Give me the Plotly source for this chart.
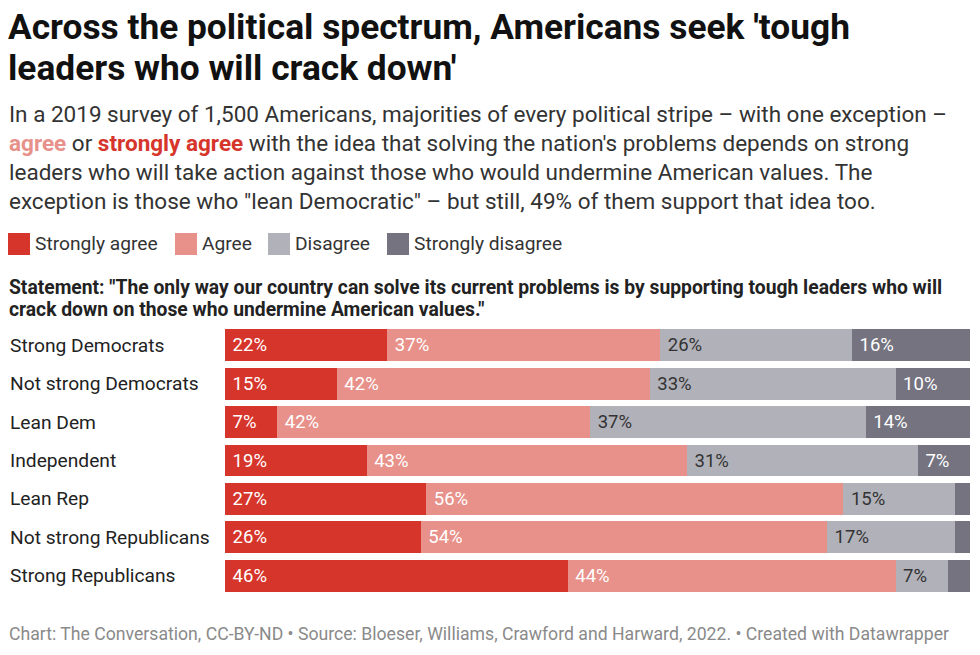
import plotly.graph_objects as go

categories = ["Strong Democrats", "Not strong Democrats", "Lean Dem", "Independent",
              "Lean Rep", "Not strong Republicans", "Strong Republicans"]
series_names = ["Strongly agree", "Agree", "Disagree", "Strongly disagree"]
strongly_agree = [22, 15, 7, 19, 27, 26, 46]
agree = [37, 42, 42, 43, 56, 54, 44]
disagree = [26, 33, 37, 31, 15, 17, 7]
strongly_disagree = [16, 10, 14, 7, 2, 2, 3]
colors = ["#d6352b", "#e8918a", "#b1b1b9", "#74737f"]
text_colors = ["#ffffff", "#ffffff", "#333333", "#ffffff"]
min_label = 5

W, H = 980, 655
ML, MR, MT, MB = 225, 10, 326, 60
PW = W - ML - MR
PH = H - MT - MB

def px(x):
    return (x - ML) / PW

def py(y):
    return (H - MB - y) / PH

fig = go.Figure()
all_series = [strongly_agree, agree, disagree, strongly_disagree]
for name, vals, col, tc in zip(series_names, all_series, colors, text_colors):
    fig.add_trace(go.Bar(
        y=categories, x=vals, name=name, orientation="h",
        marker=dict(color=col, line=dict(width=0)),
        text=[f"\u00a0{v}%" if v >= min_label else "" for v in vals],
        textposition="inside", insidetextanchor="start",
        textfont=dict(family="Roboto", size=18.5, color=tc),
        constraintext="none", cliponaxis=False,
        hoverinfo="skip", showlegend=False,
    ))

fig.update_layout(
    width=W, height=H, barmode="stack", barnorm="percent", bargap=0.17,
    margin=dict(l=ML, r=MR, t=MT, b=MB),
    paper_bgcolor="white", plot_bgcolor="white",
    font=dict(family="Roboto", color="#222222"),
    xaxis=dict(visible=False, range=[0, 100], fixedrange=True),
    yaxis=dict(autorange="reversed", showticklabels=False, showgrid=False,
               zeroline=False, fixedrange=True),
    uniformtext=dict(minsize=18, mode="show"),
)

ann = []
def text(x, y, s, size, color="#222222", yanchor="middle"):
    ann.append(dict(x=px(x), y=py(y), xref="paper", yref="paper", text=s,
                    showarrow=False, xanchor="left", yanchor=yanchor,
                    font=dict(family="Roboto", size=size, color=color), align="left"))

# Title
text(6, 27, "<b>Across the political spectrum, Americans seek 'tough</b>", 35.3, "#111111")
text(6, 68, "<b>leaders who will crack down'</b>", 35.3, "#111111")
# Subtitle
sub = [
    "In a 2019 survey of 1,500 Americans, majorities of every political stripe – with one exception –",
    "<b><span style='color:#e8918a'>agree</span></b> or <b><span style='color:#d6352b'>strongly agree</span></b> with the idea that solving the nation's problems depends on strong",
    "leaders who will take action against those who would undermine American values. The",
    "exception is those who \"lean Democratic\" – but still, 49% of them support that idea too.",
]
for i, s in enumerate(sub):
    text(7, 114 + i * 29, s, 22.5, "#333333")

# Legend
leg_x = [8, 175, 268, 387]
for name, col, lx in zip(series_names, colors, leg_x):
    fig.add_shape(type="rect", xref="paper", yref="paper",
                  x0=px(lx), x1=px(lx + 22), y0=py(255), y1=py(233),
                  fillcolor=col, line=dict(width=0))
    text(lx + 25, 243, name, 19.2, "#333333")

# Statement
text(7, 287, "<b>Statement: \"The only way our country can solve its current problems is by supporting tough leaders who will</b>", 19.3, "#222222")
text(7, 309, "<b>crack down on those who undermine American values.\"</b>", 19.3, "#222222")

# Category labels
for c in categories:
    ann.append(dict(x=0, y=c, xref="paper", yref="y", text=c, showarrow=False,
                    xanchor="left", xshift=-ML + 8, yanchor="middle",
                    font=dict(family="Roboto", size=19.2, color="#222222")))

# Footer
text(7, 634, "Chart: The Conversation, CC-BY-ND • Source: Bloeser, Williams, Crawford and Harward, 2022. • Created with Datawrapper", 17.65, "#8a8a8a")

fig.update_layout(annotations=ann)
fig.write_html("out.html")
